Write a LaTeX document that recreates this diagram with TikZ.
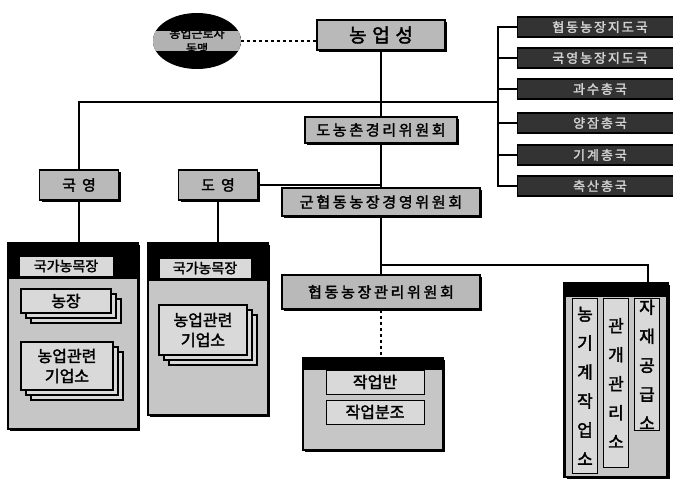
\documentclass[tikz,border=0pt]{standalone}
\usepackage{fontspec}
\setmainfont{Noto Sans CJK KR}[AutoFakeBold=2]
\usetikzlibrary{shapes.geometric,shadows}

\begin{document}
\begin{tikzpicture}[x=1pt,y=-1pt]
  \tikzset{orgbox/.style={draw=black,line width=1.6pt,fill=gray!55,inner sep=0pt,
      font=\fontsize{15}{15}\selectfont\bfseries\addfontfeatures{LetterSpace=18},
      drop shadow={shadow xshift=2pt,shadow yshift=-2pt,opacity=1,fill=black}}}
  \tikzset{deptbox/.style={draw=black,line width=1.2pt,fill=black!80,text=gray!35,inner sep=0pt,
      minimum width=165pt,minimum height=20pt,
      font=\fontsize{13}{13}\selectfont\bfseries\addfontfeatures{LetterSpace=15}}}
  \tikzset{unitbox/.style={draw=black,line width=1.4pt,fill=gray!55,inner sep=0pt,
      minimum width=79pt,minimum height=30pt,
      font=\fontsize{15}{15}\selectfont\bfseries\addfontfeatures{LetterSpace=40},
      drop shadow={shadow xshift=2pt,shadow yshift=-2pt,opacity=1,fill=black}}}
  \tikzset{blockbox/.style={draw=black,line width=2.5pt,fill=gray!45,inner sep=0pt,
      drop shadow={shadow xshift=2pt,shadow yshift=-2pt,opacity=1,fill=black}}}
  \tikzset{labelbox/.style={draw=black,line width=1pt,fill=gray!30,inner sep=0pt,
      font=\fontsize{14}{14}\selectfont\bfseries}}
  \tikzset{stackbox/.style={draw=black,line width=1.2pt,fill=gray!30,inner sep=0pt,align=center,
      font=\fontsize{16}{20}\selectfont\bfseries,
      double copy shadow={shadow xshift=5pt,shadow yshift=-5pt}}}
  \tikzset{colbox/.style={draw=black,line width=1.2pt,fill=gray!30,inner sep=0pt,align=center,
      anchor=north,minimum width=25pt,font=\fontsize{17}{29}\selectfont\bfseries}}
  \tikzset{orgline/.style={draw=black,line width=1.1pt}}

  \useasboundingbox (0,0) rectangle (673,480);

  \node[ellipse,fill=black,minimum width=88pt,minimum height=56pt,inner sep=0pt,
        font=\fontsize{12}{15}\selectfont\bfseries,align=center,
        path picture={\fill[gray!60] ([yshift=-10pt]path picture bounding box.west)
          rectangle ([yshift=10pt]path picture bounding box.east);}] (union) at (197,41)
        {농업근로자\\동맹};
  \node[orgbox,minimum width=128pt,minimum height=30pt,
        font=\fontsize{19}{19}\selectfont\bfseries\addfontfeatures{LetterSpace=30}] (agri) at (381,35) {농업성};
  \node[orgbox,minimum width=152pt,minimum height=26pt] (provcom) at (381,130) {도농촌경리위원회};
  \node[orgbox,minimum width=198pt,minimum height=28pt] (countycom) at (381,202) {군협동농장경영위원회};
  \node[orgbox,minimum width=198pt,minimum height=34pt] (farmcom) at (381,292) {협동농장관리위원회};

  \node[unitbox] (stateop) at (79,185) {국영};
  \node[unitbox] (provop) at (218,185) {도영};

  \node[deptbox] (dept1) at (600,27) {협동농장지도국};
  \node[deptbox] (dept2) at (600,58) {국영농장지도국};
  \node[deptbox] (dept3) at (600,89) {과수총국};
  \node[deptbox] (dept4) at (600,123) {양잠총국};
  \node[deptbox] (dept5) at (600,155) {기계총국};
  \node[deptbox] (dept6) at (600,186) {축산총국};

  \node[blockbox,minimum width=130pt,minimum height=186pt,
        path picture={\fill[black] (path picture bounding box.north west)
          rectangle ([yshift=-36pt]path picture bounding box.north east);}] (stateblk) at (73,336) {};
  \node[labelbox,minimum width=94pt,minimum height=20pt] (statefarm) at (66,266) {국가농목장};
  \node[stackbox,minimum width=90pt,minimum height=24pt] (farm) at (66,301) {농장};
  \node[stackbox,minimum width=92pt,minimum height=48pt] (statefirm) at (67,366) {농업관련\\기업소};

  \node[blockbox,minimum width=120pt,minimum height=172pt,
        path picture={\fill[black] (path picture bounding box.north west)
          rectangle ([yshift=-38pt]path picture bounding box.north east);}] (provblk) at (208,329) {};
  \node[labelbox,minimum width=92pt,minimum height=20pt] (provfarm) at (205,268) {국가농목장};
  \node[stackbox,minimum width=88pt,minimum height=50pt] (provfirm) at (203,330) {농업관련\\기업소};

  \node[blockbox,minimum width=140pt,minimum height=92pt,
        path picture={\fill[black] (path picture bounding box.north west)
          rectangle ([yshift=-12pt]path picture bounding box.north east);}] (teamblk) at (373,404) {};
  \node[labelbox,minimum width=98pt,minimum height=24pt,font=\fontsize{16}{16}\selectfont\bfseries] (team) at (375,382) {작업반};
  \node[labelbox,minimum width=98pt,minimum height=24pt,font=\fontsize{16}{16}\selectfont\bfseries] (subteam) at (375,412) {작업분조};

  \node[blockbox,minimum width=103pt,minimum height=194pt,
        path picture={\fill[black] (path picture bounding box.north west)
          rectangle ([yshift=-14pt]path picture bounding box.north east);}] (facblk) at (616,380) {};
  \node[colbox,minimum height=175pt] (machine) at (585,298) {농\\기\\계\\작\\업\\소};
  \node[colbox,minimum height=169pt] (irrigation) at (616,298) {관\\개\\관\\리\\소};
  \node[colbox,minimum height=132pt] (supply) at (647,298) {자\\재\\공\\급\\소};

  \coordinate (hub) at (381,102);
  \coordinate (bracket) at (498,102);
  \coordinate (facjoin) at (381,265);
  \coordinate (factop) at (648,283);

  \draw[orgline,dashed] (union.east) -- (union.east -| agri.west);
  \draw[orgline] (agri) -- (provcom);
  \draw[orgline] (provcom) -- (countycom);
  \draw[orgline] (countycom) -- (farmcom);
  \draw[orgline] (hub) -| (stateop);
  \draw[orgline] (hub) -- (bracket);
  \draw[orgline] (bracket) |- (dept1.west);
  \draw[orgline] (bracket) |- (dept2.west);
  \draw[orgline] (bracket) |- (dept3.west);
  \draw[orgline] (bracket) |- (dept4.west);
  \draw[orgline] (bracket) |- (dept5.west);
  \draw[orgline] (bracket) |- (dept6.west);
  \draw[orgline] (provop.east) -- (provop.east -| provcom);
  \draw[orgline] (stateop) -- (stateop |- stateblk.north);
  \draw[orgline] (provop) -- (provop |- provblk.north);
  \draw[orgline] (facjoin) -| (factop);
  \draw[orgline,dashed] (farmcom) -- (farmcom |- teamblk.north);
\end{tikzpicture}
\end{document}
